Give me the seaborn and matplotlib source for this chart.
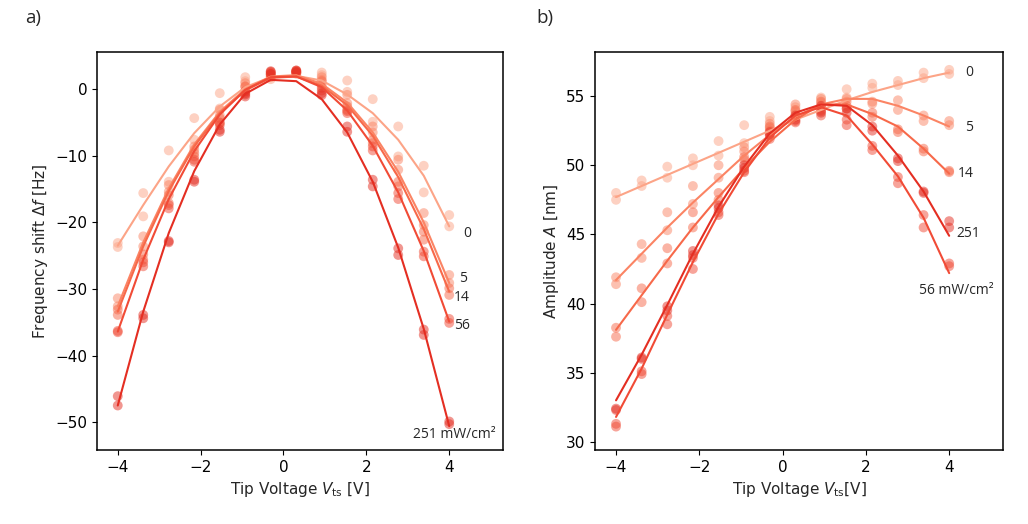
import pandas as pd
import matplotlib
matplotlib.use("Agg")
import matplotlib.pyplot as plt
import seaborn as sb

# Tip voltages (V) and light intensities (mW/cm^2)
voltage = [-4.0, -3.385, -2.769, -2.154, -1.538, -0.923, -0.308,
           0.308, 0.923, 1.538, 2.154, 2.769, 3.385, 4.0]
intensity = ['0', '5', '14', '56', '251']
colors = ['#fca487', '#fb8464', '#f7694a', '#f14b36', '#e42e22']

# a) frequency shift, fitted curves
df_fit_0 = [-23.5, -17.4, -11.6, -6.6, -2.6, 0.3, 1.8, 2.0, 1.3, -0.8, -3.6, -7.6, -13.0, -20.6]
df_fit_5 = [-32.6, -23.0, -14.9, -8.3, -3.4, 0.0, 1.9, 2.1, 0.8, -2.0, -6.5, -12.4, -20.0, -29.1]
df_fit_14 = [-33.4, -23.6, -15.3, -8.6, -3.6, -0.2, 1.7, 1.9, 0.5, -2.4, -7.0, -13.2, -21.0, -30.4]
df_fit_56 = [-36.4, -25.6, -16.5, -9.3, -3.8, -0.1, 1.8, 1.9, 0.3, -3.2, -8.5, -15.5, -24.3, -34.9]
df_fit_251 = [-47.5, -33.4, -21.6, -12.3, -5.3, -0.7, 1.4, 1.2, -1.5, -6.5, -13.9, -23.8, -36.0, -50.6]

# a) frequency shift, measured (two sweeps per voltage)
df_meas_0 = [(-23.1, -23.7), (-15.6, -19.1), (-9.2, -13.9), (-4.35, -7.6), (-0.6, -2.9), (1.8, 1.2), (1.9, 1.5),
             (2.5, 2.3), (2.5, 2.1), (1.3, -0.4), (-1.5, -4.9), (-5.6, -10.1), (-11.5, -15.5), (-18.9, -20.6)]
df_meas_5 = [(-31.4, -32.6), (-22.1, -23.6), (-14.4, -15.4), (-8.6, -9.1), (-3.1, -3.9), (0.9, 0.4), (2.3, 1.8),
             (2.6, 2.4), (1.8, 1.4), (-0.85, -2.1), (-5.6, -6.5), (-10.6, -12.1), (-18.6, -20.4), (-27.9, -29.1)]
df_meas_14 = [(-33.1, -33.9), (-24.8, -25.6), (-15.9, -17.1), (-9.6, -10.1), (-4.35, -5.1), (0.4, -0.3), (2.5, 2.0),
              (2.7, 2.4), (1.2, 0.6), (-2.6, -3.1), (-7.6, -8.1), (-13.9, -14.6), (-21.4, -22.6), (-29.9, -30.9)]
df_meas_56 = [(-36.3, -36.5), (-26.0, -26.6), (-17.4, -17.9), (-10.6, -10.9), (-5.0, -5.4), (-0.35, -0.6), (2.6, 2.2),
              (2.8, 2.5), (0.2, -0.2), (-3.3, -3.6), (-8.6, -9.2), (-15.6, -16.5), (-24.4, -25.1), (-34.5, -35.1)]
df_meas_251 = [(-46.1, -47.5), (-33.9, -34.4), (-22.8, -23.0), (-13.6, -13.9), (-6.1, -6.4), (-0.8, -1.1), (2.7, 2.3),
               (2.8, 2.6), (-0.6, -0.9), (-5.6, -6.4), (-13.6, -14.6), (-23.9, -24.9), (-36.1, -36.9), (-49.9, -50.3)]

# b) amplitude, fitted curves
amp_fit_0 = [47.7, 48.5, 49.3, 50.1, 50.9, 51.7, 52.5, 53.3, 54.0, 54.7, 55.3, 55.8, 56.3, 56.7]
amp_fit_5 = [41.7, 43.6, 45.5, 47.3, 49.0, 50.7, 52.2, 53.5, 54.4, 54.8, 54.8, 54.3, 53.6, 52.8]
amp_fit_14 = [38.1, 40.6, 43.1, 45.5, 47.7, 49.8, 51.7, 53.3, 54.4, 54.4, 53.7, 52.8, 51.2, 49.4]
amp_fit_56 = [31.8, 35.3, 39.2, 43.0, 46.5, 49.5, 52.0, 53.6, 54.2, 53.6, 51.5, 49.2, 46.2, 42.2]
amp_fit_251 = [33.0, 36.3, 39.9, 43.6, 47.0, 49.9, 52.3, 53.8, 54.4, 54.3, 52.9, 50.7, 48.1, 44.9]

# b) amplitude, measured
amp_meas_0 = [(48.0, 47.5), (48.9, 48.5), (49.9, 49.1), (50.5, 50.0), (51.75, 50.7), (52.9, 51.6), (53.5, 53.2),
              (54.2, 53.7), (54.9, 54.5), (55.5, 54.9), (55.9, 55.6), (56.1, 55.8), (56.7, 56.3), (56.9, 56.6)]
amp_meas_5 = [(41.9, 41.4), (44.3, 43.3), (46.6, 45.3), (48.5, 47.2), (50.0, 49.1), (51.3, 51.0), (53.0, 52.7),
              (54.4, 53.9), (54.8, 54.2), (54.8, 54.6), (54.6, 54.45), (54.7, 54.0), (53.6, 53.2), (53.2, 52.9)]
amp_meas_14 = [(38.25, 37.6), (41.1, 40.1), (44.0, 42.9), (46.6, 45.5), (48.0, 47.5), (50.6, 50.4), (52.8, 52.5),
               (54.0, 53.5), (54.6, 54.0), (54.3, 54.1), (53.8, 53.5), (52.6, 52.4), (51.2, 51.0), (49.6, 49.5)]
amp_meas_56 = [(31.3, 31.1), (35.1, 34.9), (39.1, 38.5), (43.3, 42.5), (46.6, 46.4), (49.6, 49.5), (52.2, 51.9),
               (53.2, 53.1), (53.9, 53.6), (53.3, 52.9), (51.4, 51.1), (49.15, 48.7), (46.4, 45.5), (42.9, 42.7)]
amp_meas_251 = [(32.4, 32.3), (36.1, 36.0), (39.8, 39.5), (43.8, 43.5), (47.1, 46.9), (50.0, 49.8), (52.4, 52.2),
                (53.6, 53.3), (54.3, 53.8), (54.1, 53.8), (52.8, 52.5), (50.5, 50.3), (48.1, 48.0), (45.96, 45.5)]


def fit_frame(fits):
    rows = []
    for name, vals in zip(intensity, fits):
        for v, y in zip(voltage, vals):
            rows.append((name, v, y))
    return pd.DataFrame(rows, columns=['I', 'V', 'y'])


def meas_frame(meas):
    rows = []
    for name, vals in zip(intensity, meas):
        for v, pair in zip(voltage, vals):
            for y in pair:
                rows.append((name, v, y))
    return pd.DataFrame(rows, columns=['I', 'V', 'y'])


df_fit = fit_frame([df_fit_0, df_fit_5, df_fit_14, df_fit_56, df_fit_251])
df_meas = meas_frame([df_meas_0, df_meas_5, df_meas_14, df_meas_56, df_meas_251])
amp_fit = fit_frame([amp_fit_0, amp_fit_5, amp_fit_14, amp_fit_56, amp_fit_251])
amp_meas = meas_frame([amp_meas_0, amp_meas_5, amp_meas_14, amp_meas_56, amp_meas_251])

sb.set_style('ticks')
plt.rcParams['font.family'] = ['DejaVu Sans']
plt.rcParams['xtick.labelsize'] = 11
plt.rcParams['ytick.labelsize'] = 11
plt.rcParams['axes.labelsize'] = 11
plt.rcParams['axes.edgecolor'] = 'black'
plt.rcParams['xtick.color'] = 'black'
plt.rcParams['ytick.color'] = 'black'

fig = plt.figure(figsize=(10.28, 5.24), dpi=100)
ax1 = fig.add_axes([0.0944, 0.141, 0.395, 0.760])
ax2 = fig.add_axes([0.579, 0.141, 0.397, 0.760])

for ax, fit, meas in [(ax1, df_fit, df_meas), (ax2, amp_fit, amp_meas)]:
    sb.scatterplot(data=meas, x='V', y='y', hue='I', hue_order=intensity, palette=colors,
                   alpha=0.5, s=50, linewidth=0, legend=False, ax=ax)
    sb.lineplot(data=fit, x='V', y='y', hue='I', hue_order=intensity, palette=colors,
                estimator=None, sort=False, linewidth=1.5, legend=False, ax=ax)
    ax.set_xlim(-4.5, 5.3)
    ax.set_xticks([-4, -2, 0, 2, 4])
    for s in ax.spines.values():
        s.set_linewidth(1.1)

ax1.set_ylim(-54.2, 5.6)
ax1.set_yticks([0, -10, -20, -30, -40, -50])
ax1.set_xlabel(r'Tip Voltage $V_\mathrm{ts}$ [V]')
ax1.set_ylabel(r'Frequency shift $\Delta f$ [Hz]')

ax2.set_ylim(29.4, 58.2)
ax2.set_yticks([30, 35, 40, 45, 50, 55])
ax2.set_xlabel(r'Tip Voltage $V_\mathrm{ts}$[V]')
ax2.set_ylabel(r'Amplitude $A$ [nm]')

# curve labels
lab_font = dict(family='Open Sans', fontsize=10, ha='center', va='center')
ax1.text(4.43, -21.6, '0', **lab_font)
ax1.text(4.34, -28.5, '5', **lab_font)
ax1.text(4.31, -31.3, '14', **lab_font)
ax1.text(4.31, -35.5, '56', **lab_font)
ax1.text(4.12, -51.9, '251 mW/cm²', **lab_font)
ax2.text(4.47, 56.7, '0', **lab_font)
ax2.text(4.47, 52.74, '5', **lab_font)
ax2.text(4.40, 49.4, '14', **lab_font)
ax2.text(4.47, 45.1, '251', **lab_font)
ax2.text(4.16, 40.96, '56 mW/cm²', **lab_font)

fig.text(0.032, 0.966, 'a)', fontsize=13.5, ha='center', va='center', family='Open Sans')
fig.text(0.530, 0.966, 'b)', fontsize=13.5, ha='center', va='center', family='Open Sans')

fig.savefig('out.png', dpi=100)
